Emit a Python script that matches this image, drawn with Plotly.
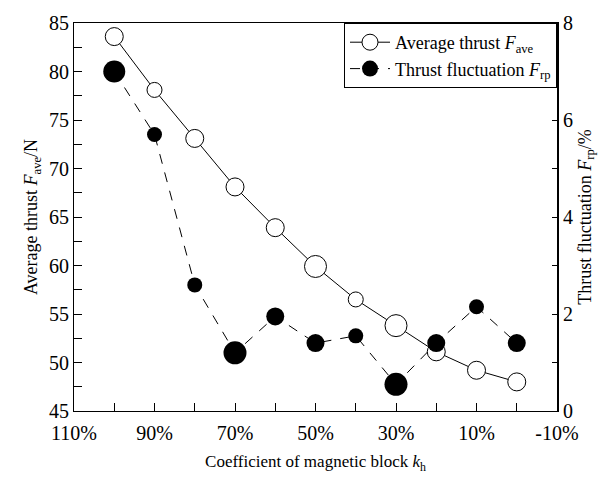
import plotly.graph_objects as go

# Data
k_coef = [100, 90, 80, 70, 60, 50, 40, 30, 20, 10, 0]
f_ave = [83.6, 78.1, 73.1, 68.1, 63.9, 59.9, 56.5, 53.8, 51.1, 49.2, 48.0]
f_rp = [7.0, 5.7, 2.6, 1.2, 1.95, 1.4, 1.55, 0.55, 1.4, 2.15, 1.4]

x_tickvals = [110, 90, 70, 50, 30, 10, -10]
x_ticktext = ["110%", "90%", "70%", "50%", "30%", "10%", "-10%"]

# Styling
size_open = [18, 15, 18, 18, 18, 22, 15, 22, 18, 18, 18]
size_fill = [22, 15, 15, 23, 18, 18, 15, 23, 18, 15, 18]
FONT = "Liberation Serif"

fig = go.Figure()
fig.add_trace(go.Scatter(
    x=k_coef, y=f_ave, mode="lines+markers",
    name="Average thrust <i>F</i><sub>ave</sub>",
    line=dict(color="black", width=1),
    marker=dict(symbol="circle", size=size_open, color="#ffffff", opacity=1,
                line=dict(color="#000000", width=1)),
    yaxis="y",
))
fig.add_trace(go.Scatter(
    x=k_coef, y=f_rp, mode="lines+markers",
    name="Thrust fluctuation <i>F</i><sub>rp</sub>",
    line=dict(color="black", width=1, dash="10px,9px"),
    marker=dict(symbol="circle", size=size_fill, color="#000000", opacity=1,
                line=dict(color="#000000", width=0)),
    yaxis="y2",
))

fig.update_layout(
    width=610, height=480,
    margin=dict(l=74, r=53, t=17, b=67),
    paper_bgcolor="white", plot_bgcolor="white",
    font=dict(family=FONT, size=20, color="black"),
    showlegend=True,
    legend=dict(x=1, xanchor="right", y=1, yanchor="top",
                bgcolor="white", bordercolor="black", borderwidth=1,
                font=dict(family=FONT, size=18),
                tracegroupgap=0, itemwidth=40),
    xaxis=dict(
        range=[110, -10], tickmode="array", tickvals=x_tickvals, ticktext=x_ticktext,
        ticks="inside", ticklen=8, tickcolor="black", ticklabelstandoff=4,
        minor=dict(dtick=10, tick0=0, ticks="inside", ticklen=8, tickcolor="black"),
        showline=True, linecolor="black", linewidth=1, mirror=True,
        showgrid=False, zeroline=False,
        tickfont=dict(size=20),
        title=dict(text="Coefficient of magnetic block <i>k</i><sub>h</sub>",
                   font=dict(size=17), standoff=12),
    ),
    yaxis=dict(
        range=[45, 85], dtick=5, tick0=45,
        ticks="inside", ticklen=8, tickcolor="black",
        minor=dict(dtick=2.5, tick0=45, ticks="inside", ticklen=8, tickcolor="black"),
        showline=True, linecolor="black", linewidth=1,
        showgrid=False, zeroline=False,
        tickfont=dict(size=20),
        title=dict(text="Average thrust <i>F</i><sub>ave</sub>/N",
                   font=dict(size=18), standoff=6),
    ),
    yaxis2=dict(
        range=[0, 8], dtick=2, tick0=0, overlaying="y", side="right",
        ticks="inside", ticklen=5, tickcolor="black",
        minor=dict(dtick=1, tick0=0, ticks="inside", ticklen=5, tickcolor="black"),
        showline=True, linecolor="black", linewidth=2,
        showgrid=False, zeroline=False,
        tickfont=dict(size=20),
        title=dict(text="Thrust fluctuation <i>F</i><sub>rp</sub>/%",
                   font=dict(size=18), standoff=6),
    ),
)

fig.write_html("out.html")
